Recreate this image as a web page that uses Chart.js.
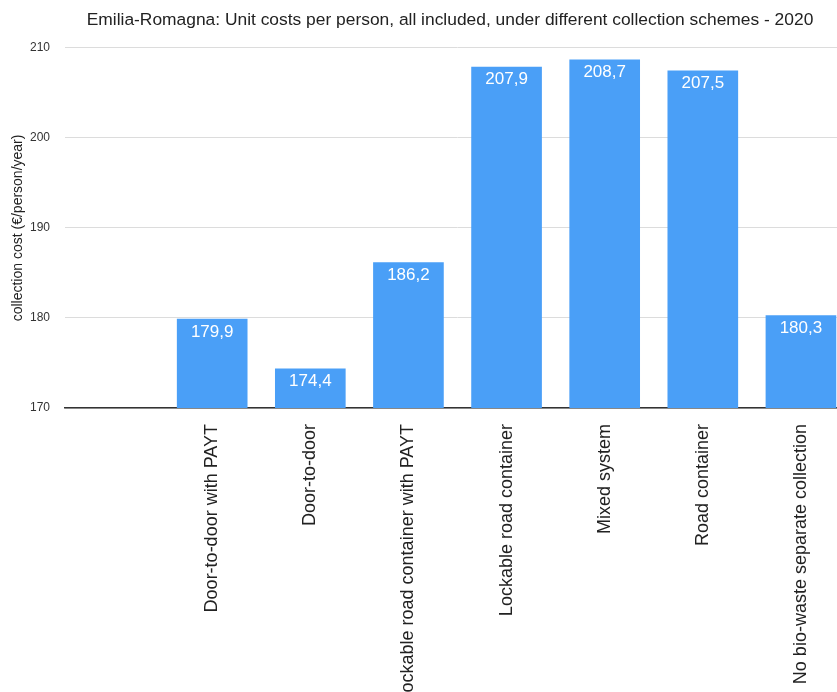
<!DOCTYPE html>
<html>
<head>
<meta charset="utf-8">
<script src="https://cdn.jsdelivr.net/npm/chart.js@4.4.1/dist/chart.umd.min.js"></script>
<style>
html,body{margin:0;padding:0;background:#fff;overflow:hidden;width:837px;height:692px;}
#wrap{position:absolute;left:0;top:0;width:900px;height:692px;}
</style>
</head>
<body>
<div id="wrap"><canvas id="c" width="900" height="692"></canvas></div>
<script>
const categories = ['', 'Door-to-door with PAYT', 'Door-to-door', 'Lockable road container with PAYT', 'Lockable road container', 'Mixed system', 'Road container', 'No bio-waste separate collection'];
const costValues = [null, 179.9, 174.4, 186.2, 207.9, 208.7, 207.5, 180.3];
const yTicks = [170, 180, 190, 200, 210];
const chartTitle = 'Emilia-Romagna: Unit costs per person, all included, under different collection schemes - 2020';
const yTitle = 'collection cost (€/person/year)';

const FONT = '"Liberation Sans", Arial, Helvetica, sans-serif';

const valueLabels = {
  id: 'valueLabels',
  afterDatasetsDraw(chart) {
    const ctx = chart.ctx;
    const meta = chart.getDatasetMeta(0);
    ctx.save();
    ctx.font = '17px ' + FONT;
    ctx.fillStyle = '#ffffff';
    ctx.textAlign = 'center';
    ctx.textBaseline = 'middle';
    meta.data.forEach((bar, i) => {
      const v = costValues[i];
      if (v == null) return;
      ctx.fillText(v.toFixed(1).replace('.', ','), bar.x, bar.y + 13);
    });
    ctx.restore();
  }
};

new Chart(document.getElementById('c'), {
  type: 'bar',
  data: {
    labels: categories,
    datasets: [{
      data: costValues,
      backgroundColor: '#4a9ff7',
      borderWidth: 0,
      categoryPercentage: 0.8,
      barPercentage: 0.9,
      yAxisID: 'y'
    }]
  },
  options: {
    responsive: false,
    animation: false,
    layout: { padding: 0 },
    plugins: {
      legend: { display: false },
      tooltip: { enabled: false },
      title: {
        display: true,
        text: chartTitle,
        color: '#222',
        font: { family: FONT, size: 17.4, weight: 'normal' },
        padding: { top: 10, bottom: 17 }
      }
    },
    scales: {
      y: {
        position: 'left',
        min: 170,
        max: 210,
        afterBuildTicks(scale) { scale.ticks = yTicks.map(v => ({ value: v })); },
        afterFit(scale) { scale.width = 65; },
        ticks: {
          color: '#333',
          font: { family: FONT, size: 12 },
          padding: 15
        },
        grid: { color: '#dcdcdc', drawTicks: false, lineWidth: 1 },
        border: { display: false },
        title: {
          display: true,
          text: yTitle,
          color: '#222',
          font: { family: FONT, size: 14 },
          padding: { top: 10, bottom: 0 }
        }
      },
      spacer: {
        position: 'right',
        display: true,
        afterFit(scale) { scale.width = 50; },
        ticks: { display: false },
        grid: { display: false, drawTicks: false },
        border: { display: false }
      },
      x: {
        afterFit(scale) { scale.height = 284; },
        grid: { display: false, drawTicks: false },
        border: { display: true, color: '#333', width: 1.5 },
        ticks: {
          color: '#222',
          font: { family: FONT, size: 18 },
          minRotation: 90,
          maxRotation: 90,
          autoSkip: false,
          padding: 16
        }
      }
    }
  },
  plugins: [valueLabels]
});
</script>
</body>
</html>
